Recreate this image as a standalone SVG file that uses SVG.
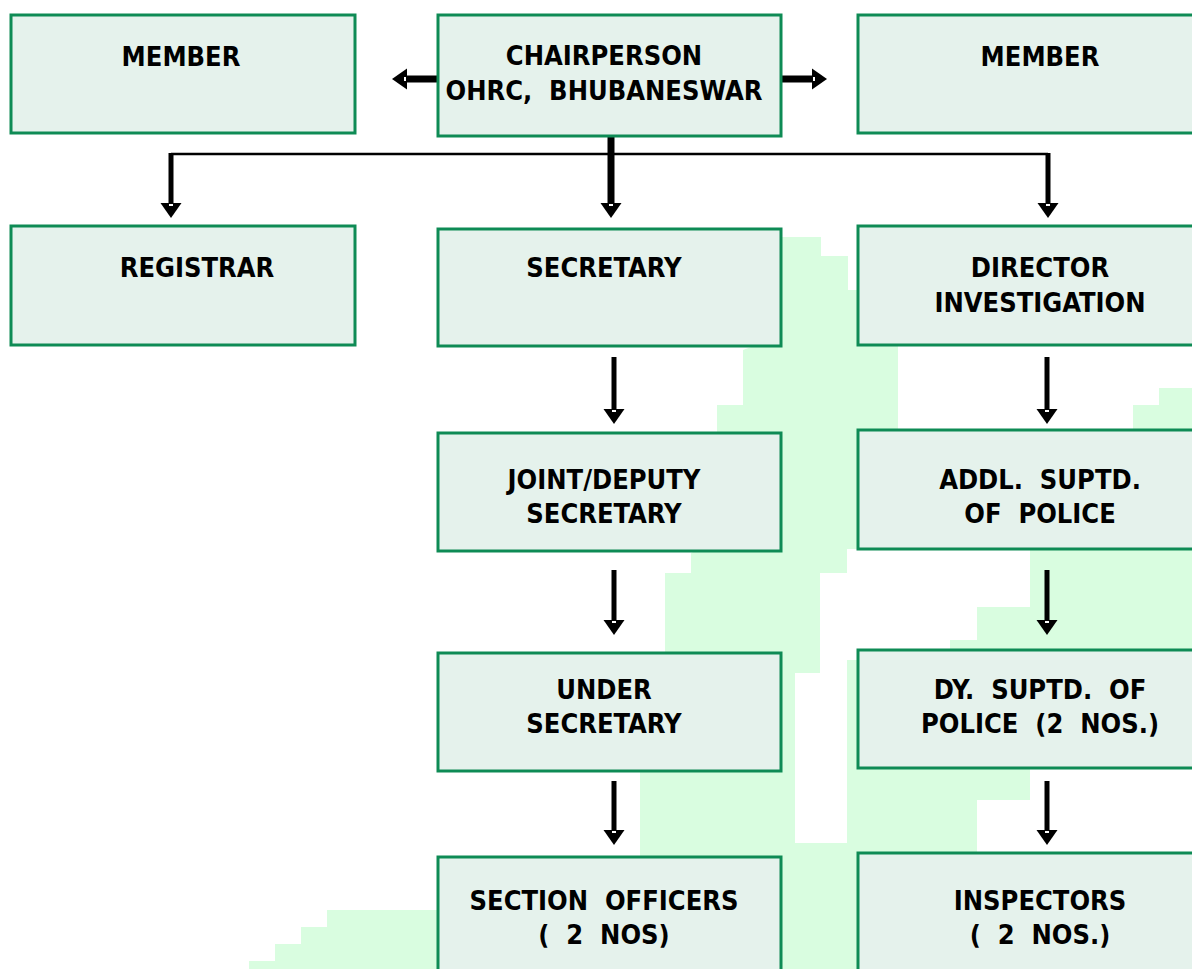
<svg xmlns="http://www.w3.org/2000/svg" width="1192" height="969" viewBox="0 0 1192 969">
<style>
.box{fill:#e5f2ec;stroke:#0e8b55;stroke-width:3}
.t{font-family:"DejaVu Sans Condensed","DejaVu Sans",sans-serif;font-weight:bold;font-size:27px;fill:#000;text-anchor:middle;white-space:pre}
.ln{stroke:#000;fill:none}
</style>
<defs>
<marker id="ah" markerUnits="userSpaceOnUse" markerWidth="16" markerHeight="22" viewBox="0 -11 16 22" refX="0" refY="0" orient="auto" overflow="visible">
<path d="M0,-10.5 L15,0 L0,10.5 Z" fill="#000"/>
<rect x="1" y="-2" width="2" height="4" fill="#fff"/>
</marker>
</defs>
<rect width="1192" height="969" fill="#fff"/>
<g id="watermark">
<path fill="#d9fde0" d="M770,245 L770,237 L821,237 L821,256 L848,256 L848,290 L898,290 L898,432 L1133,432 L1133,405 L1159,405 L1159,388 L1192,388 L1192,768 L1030,768 L1030,800 L977,800 L977,969 L249,969 L249,961 L275,961 L275,944 L301,944 L301,927 L327,927 L327,910 L445,910 L640,860 L640,771 L665,700 L665,573 L691,573 L691,553 L717,540 L717,405 L743,405 L743,350 L770,340 Z"/>
<path fill="#fff" d="M847,549 L1030,549 L1030,607 L977,607 L977,640 L950,640 L950,660 L847,660 L847,843 L795,843 L795,673 L820,673 L820,573 L847,573 Z"/>
</g>
<g id="connectors">
<line class="ln" x1="611" y1="136" x2="611" y2="203" stroke-width="7" marker-end="url(#ah)"/>
<line class="ln" x1="171" y1="154" x2="1048" y2="154" stroke-width="2.5"/>
<line class="ln" x1="171" y1="153" x2="171" y2="203" stroke-width="5" marker-end="url(#ah)"/>
<line class="ln" x1="1048" y1="153" x2="1048" y2="203" stroke-width="5" marker-end="url(#ah)"/>
<line class="ln" x1="438" y1="79" x2="407" y2="79" stroke-width="7" marker-end="url(#ah)"/>
<line class="ln" x1="781" y1="79" x2="812" y2="79" stroke-width="7" marker-end="url(#ah)"/>
<line class="ln" x1="614" y1="357" x2="614" y2="409" stroke-width="5" marker-end="url(#ah)"/>
<line class="ln" x1="614" y1="570" x2="614" y2="620" stroke-width="5" marker-end="url(#ah)"/>
<line class="ln" x1="614" y1="781" x2="614" y2="830" stroke-width="5" marker-end="url(#ah)"/>
<line class="ln" x1="1047" y1="357" x2="1047" y2="409" stroke-width="5" marker-end="url(#ah)"/>
<line class="ln" x1="1047" y1="570" x2="1047" y2="620" stroke-width="5" marker-end="url(#ah)"/>
<line class="ln" x1="1047" y1="781" x2="1047" y2="830" stroke-width="5" marker-end="url(#ah)"/>
</g>
<g id="member-left"><rect class="box" x="11" y="15" width="344" height="118"/><text class="t" x="181" y="66">MEMBER</text></g>
<g id="chairperson"><rect class="box" x="438" y="15" width="343" height="121"/><text class="t" x="604" y="65">CHAIRPERSON</text><text class="t" x="604" y="100">OHRC,  BHUBANESWAR</text></g>
<g id="member-right"><rect class="box" x="858" y="15" width="364" height="118"/><text class="t" x="1040" y="66">MEMBER</text></g>
<g id="registrar"><rect class="box" x="11" y="226" width="344" height="119"/><text class="t" x="197" y="277">REGISTRAR</text></g>
<g id="secretary"><rect class="box" x="438" y="229" width="343" height="117"/><text class="t" x="604" y="277">SECRETARY</text></g>
<g id="director"><rect class="box" x="858" y="226" width="364" height="119"/><text class="t" x="1040" y="277">DIRECTOR</text><text class="t" x="1040" y="312">INVESTIGATION</text></g>
<g id="joint-secretary"><rect class="box" x="438" y="433" width="343" height="118"/><text class="t" x="604" y="489">JOINT/DEPUTY</text><text class="t" x="604" y="523">SECRETARY</text></g>
<g id="addl-sp"><rect class="box" x="858" y="430" width="364" height="119"/><text class="t" x="1040" y="489">ADDL.  SUPTD.</text><text class="t" x="1040" y="523">OF  POLICE</text></g>
<g id="under-secretary"><rect class="box" x="438" y="653" width="343" height="118"/><text class="t" x="604" y="699">UNDER</text><text class="t" x="604" y="733">SECRETARY</text></g>
<g id="dy-sp"><rect class="box" x="858" y="650" width="364" height="118"/><text class="t" x="1040" y="699">DY.  SUPTD.  OF</text><text class="t" x="1040" y="733">POLICE  (2  NOS.)</text></g>
<g id="section-officers"><rect class="box" x="438" y="857" width="343" height="130"/><text class="t" x="604" y="910">SECTION  OFFICERS</text><text class="t" x="604" y="944">(  2  NOS)</text></g>
<g id="inspectors"><rect class="box" x="858" y="853" width="364" height="134"/><text class="t" x="1040" y="910">INSPECTORS</text><text class="t" x="1040" y="944">(  2  NOS.)</text></g>
</svg>
